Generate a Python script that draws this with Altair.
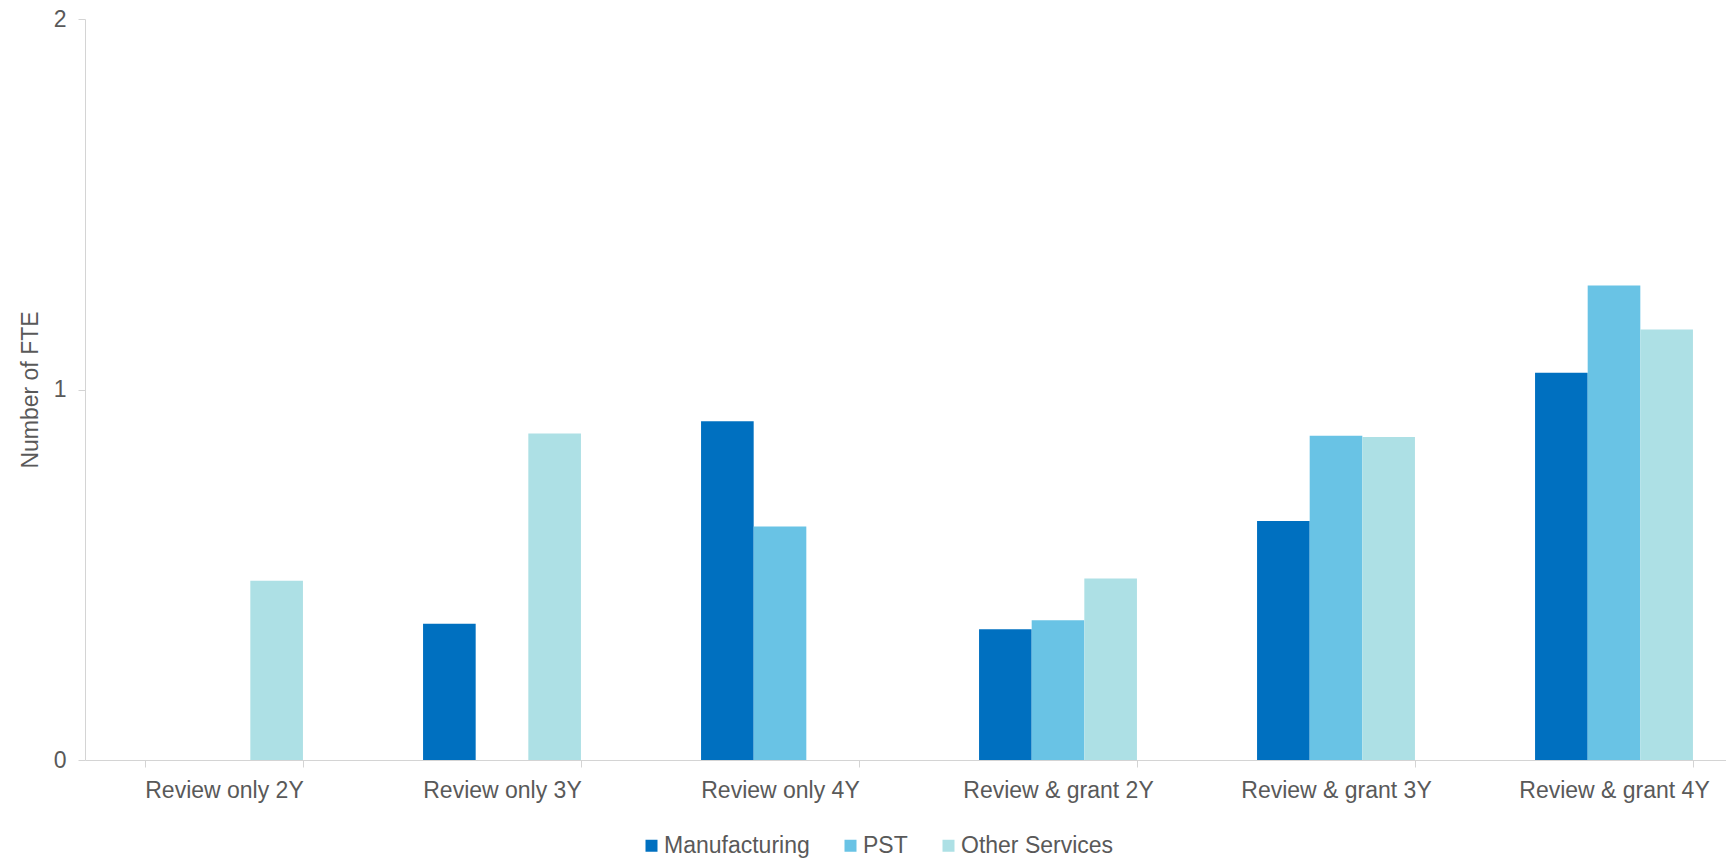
import altair as alt
import pandas as pd

categories = ["Review only 2Y", "Review only 3Y", "Review only 4Y",
              "Review & grant 2Y", "Review & grant 3Y", "Review & grant 4Y"]
series = ["Manufacturing", "PST", "Other Services"]
manufacturing = [0.0, 0.368, 0.914, 0.353, 0.645, 1.045]
pst = [0.0, 0.0, 0.630, 0.377, 0.875, 1.281]
other_services = [0.484, 0.881, 0.0, 0.490, 0.872, 1.162]
colors = ["#0070C0", "#69C3E5", "#ADE0E5"]
y_ticks = [0.0, 1.0, 2.0]

rows = []
for name, vals in zip(series, [manufacturing, pst, other_services]):
    for c, v in zip(categories, vals):
        rows.append({"category": c, "series": name, "value": v})
df = pd.DataFrame(rows)

FONT = "Liberation Sans"
TEXT = "#595959"
LINE = "#D4D4D4"

chart = alt.Chart(df).mark_bar().encode(
    x=alt.X("category:N", sort=categories,
            scale=alt.Scale(paddingInner=0.432, paddingOuter=0.216),
            axis=alt.Axis(title=None, labelAngle=0, tickBand="extent",
                          labelPadding=12, tickSize=7, labelFontSize=23,
                          labelLimit=400, labelOverlap=False)),
    xOffset=alt.XOffset("series:N", sort=series, scale=alt.Scale(paddingInner=0, paddingOuter=0)),
    y=alt.Y("value:Q", scale=alt.Scale(domain=[0, 2], nice=False, zero=True),
            axis=alt.Axis(title="Number of FTE", values=y_ticks, tickCount=3, grid=False,
                          labelExpr="format(datum.value, '.0f')",
                          tickSize=7, labelPadding=12, labelFontSize=23,
                          labelOverlap=False, labelFlush=False,
                          titleFontSize=23, titleFontWeight="normal",
                          titleAngle=270, titleBaseline="alphabetic", titleAlign="center",
                          titleX=-48, titleY=370.5)),
    color=alt.Color("series:N", sort=series,
                    scale=alt.Scale(domain=series, range=colors),
                    legend=alt.Legend(title=None, orient="none", direction="horizontal",
                                      legendX=555, legendY=815, symbolType="square",
                                      symbolSize=144, symbolStrokeWidth=0,
                                      labelFontSize=23, labelOffset=1, columnPadding=29,
                                      padding=0, labelColor=TEXT, labelFont=FONT)),
).properties(
    width=1668,
    height=741,
    autosize=alt.AutoSizeParams(type="none"),
    padding={"left": 77, "top": 11, "right": -27, "bottom": 102},
).configure_view(stroke=None).configure_axis(
    domainColor=LINE, tickColor=LINE, labelColor=TEXT, titleColor=TEXT,
    labelFont=FONT, titleFont=FONT,
)

chart.save("out.html", embed_options={"renderer": "svg", "actions": False})
